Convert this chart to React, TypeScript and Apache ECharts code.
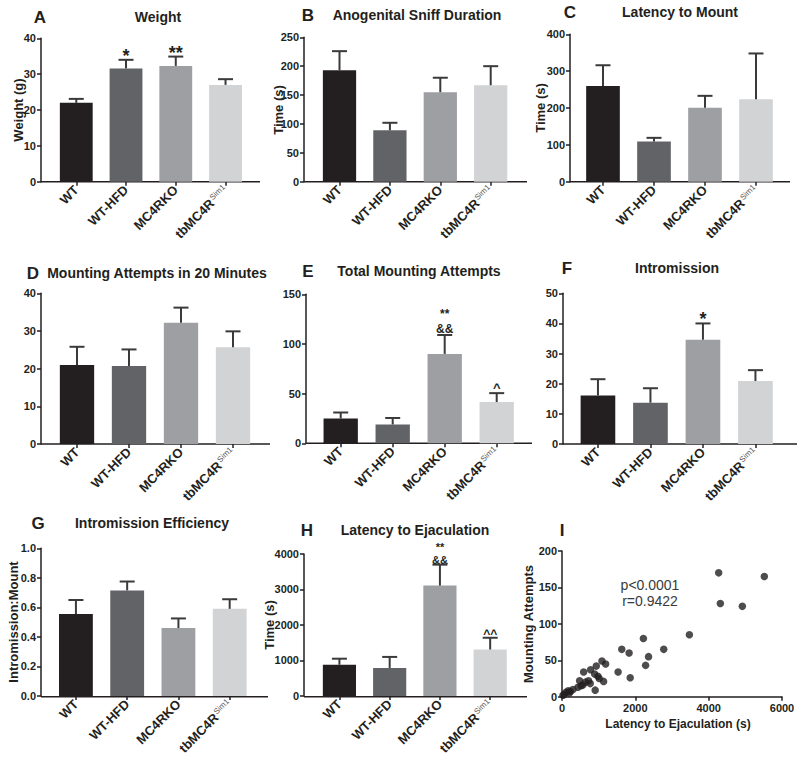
import React, { useEffect, useRef } from 'react';
import * as echarts from 'echarts';

// ---------- data ----------
const groups = ['WT', 'WT-HFD', 'MC4RKO', 'tbMC4R'];
const groupColors = ['#231f20', '#626366', '#9d9fa3', '#d2d3d5'];

const weightMean = [22.0, 31.6, 32.3, 27.0];
const weightSem = [1.1, 2.4, 2.6, 1.6];
const weightSig = ['', '*', '**', ''];
const weightTicks = { max: 40, interval: 10 };

const sniffMean = [193, 89, 155, 167];
const sniffSem = [33, 13, 25, 33];
const sniffTicks = { max: 250, interval: 50 };

const mountLatencyMean = [260, 109, 201, 224];
const mountLatencySem = [56, 10, 32, 124];
const mountLatencyTicks = { max: 400, interval: 100 };

const attempts20Mean = [21.0, 20.7, 32.2, 25.7];
const attempts20Sem = [4.8, 4.4, 4.0, 4.2];
const attempts20Ticks = { max: 40, interval: 10 };

const totalAttemptsMean = [25, 19, 90, 41.5];
const totalAttemptsSem = [6, 6.5, 19, 9];
const totalAttemptsSig = ['', '', '**\n&&', '^'];
const totalAttemptsTicks = { max: 150, interval: 50 };

const intromissionMean = [16.1, 13.7, 34.6, 20.9];
const intromissionSem = [5.4, 4.8, 5.4, 3.6];
const intromissionSig = ['', '', '*', ''];
const intromissionTicks = { max: 50, interval: 10 };

const efficiencyMean = [0.555, 0.715, 0.46, 0.59];
const efficiencySem = [0.095, 0.06, 0.065, 0.065];
const efficiencyTicks = { max: 1.0, interval: 0.2 };

const ejaculationMean = [880, 790, 3110, 1310];
const ejaculationSem = [170, 310, 590, 330];
const ejaculationSig = ['', '', '**\n&&', '^^'];
const ejaculationTicks = { max: 4000, interval: 1000 };

// panel I scatter
const latencyToEjaculation = [
  27, 60, 110, 170, 200, 230, 300, 435, 480, 520, 570, 590, 640, 725, 770, 780,
  890, 905, 935, 980, 1015, 1090, 1135, 1190, 1530, 1630, 1830, 1860, 2220,
  2280, 2360, 2775, 3474, 4273, 4318, 4918, 5518,
];
const mountingAttempts = [
  2, 3, 6, 8, 5, 7, 10, 13, 22, 15, 16, 34, 20, 22, 18, 37,
  31, 9, 42, 28, 25, 49, 21, 45, 34, 65, 60, 26, 80,
  43, 55, 65, 85, 170, 128, 124, 165,
];
const scatterTicks = { xMax: 6000, xInterval: 2000, yMax: 200, yInterval: 50 };
const statText = ['p<0.0001', 'r=0.9422'];

// ---------- style ----------
const FONT = "'Liberation Sans', Arial, Helvetica, sans-serif";
const INK = '#231f20';
const ERR = '#3a3a3c';

type Layout = {
  axisX: number; left: number; width: number; top: number; bottom: number; lineEnd: number;
  letter: [number, number]; title: [number, number]; yName?: [number, number];
  sigDy: number; starFs: number; otherFs: number; multiFs: number; multiLh: number;
};

type Panel = {
  letter: string; title: string; yName?: string;
  mean: number[]; sem: number[]; sig?: string[];
  ticks: { max: number; interval: number }; decimals?: number; layout: Layout;
};

const sigDefaults = { sigDy: 5, starFs: 18, otherFs: 13, multiFs: 12, multiLh: 14.5 };

const panels: Panel[] = [
  { letter: 'A', title: 'Weight', yName: 'Weight (g)', mean: weightMean, sem: weightSem, sig: weightSig, ticks: weightTicks,
    layout: { ...sigDefaults, axisX: 41, left: 51.4, width: 199, top: 38.3, bottom: 181.7, lineEnd: 260, letter: [40, 17], title: [158, 17], yName: [18, 110] } },
  { letter: 'B', title: 'Anogenital Sniff Duration', yName: 'Time (s)', mean: sniffMean, sem: sniffSem, ticks: sniffTicks,
    layout: { ...sigDefaults, axisX: 304, left: 314.3, width: 201.6, top: 37.3, bottom: 181.7, lineEnd: 527, letter: [308, 15], title: [417, 15], yName: [278, 110] } },
  { letter: 'C', title: 'Latency to Mount', yName: 'Time (s)', mean: mountLatencyMean, sem: mountLatencySem, ticks: mountLatencyTicks,
    layout: { ...sigDefaults, axisX: 570, left: 577.5, width: 204, top: 34.3, bottom: 181.7, lineEnd: 790, letter: [570, 12], title: [680, 12], yName: [540, 108] } },
  { letter: 'D', title: 'Mounting Attempts in 20 Minutes', mean: attempts20Mean, sem: attempts20Sem, ticks: attempts20Ticks,
    layout: { ...sigDefaults, axisX: 41, left: 51, width: 208, top: 293.3, bottom: 444, lineEnd: 270, letter: [33, 273], title: [157, 273] } },
  { letter: 'E', title: 'Total Mounting Attempts', mean: totalAttemptsMean, sem: totalAttemptsSem, sig: totalAttemptsSig, ticks: totalAttemptsTicks,
    layout: { ...sigDefaults, sigDy: 1, axisX: 306, left: 314.7, width: 208, top: 294.3, bottom: 443.3, lineEnd: 532, letter: [308, 271], title: [419, 271] } },
  { letter: 'F', title: 'Intromission', mean: intromissionMean, sem: intromissionSem, sig: intromissionSig, ticks: intromissionTicks,
    layout: { ...sigDefaults, axisX: 563, left: 571.7, width: 210, top: 293.3, bottom: 444, lineEnd: 797, letter: [567, 268], title: [677, 268] } },
  { letter: 'G', title: 'Intromission Efficiency', yName: 'Intromission:Mount', mean: efficiencyMean, sem: efficiencySem, ticks: efficiencyTicks, decimals: 1,
    layout: { ...sigDefaults, axisX: 41, left: 50.3, width: 205, top: 548.3, bottom: 696.7, lineEnd: 268, letter: [38, 523], title: [152, 523], yName: [13, 622] } },
  { letter: 'H', title: 'Latency to Ejaculation', yName: 'Time (s)', mean: ejaculationMean, sem: ejaculationSem, sig: ejaculationSig, ticks: ejaculationTicks,
    layout: { ...sigDefaults, sigDy: 2, otherFs: 12, multiFs: 11, multiLh: 13, axisX: 304, left: 314.3, width: 201, top: 554, bottom: 696.7, lineEnd: 527, letter: [307, 530], title: [415, 530], yName: [269, 625] } },
];

const scatterLayout = { left: 562, top: 551, width: 220, bottom: 696.7, letter: [562, 530], yName: [528, 624], xName: [678, 724], stat: [650, 592.5] };

function makeErrorRender(p: Panel) {
  return (params: any, api: any) => {
    const i = params.dataIndex;
    const base = api.coord([i, p.mean[i]]);
    const top = api.coord([i, p.mean[i] + p.sem[i]]);
    const children: any[] = [
      { type: 'line', shape: { x1: base[0], y1: base[1], x2: top[0], y2: top[1] }, style: { stroke: ERR, lineWidth: 2 } },
      { type: 'line', shape: { x1: top[0] - 7.5, y1: top[1], x2: top[0] + 7.5, y2: top[1] }, style: { stroke: ERR, lineWidth: 2 } },
    ];
    const s = p.sig ? p.sig[i] : '';
    if (s) {
      const L = p.layout;
      const multi = s.indexOf('\n') >= 0;
      const fs = multi ? L.multiFs : s.indexOf('*') >= 0 ? L.starFs : L.otherFs;
      const lh = multi ? L.multiLh : fs;
      children.push({
        type: 'text',
        style: {
          text: s, x: top[0], y: top[1] + L.sigDy, align: 'center', verticalAlign: 'bottom',
          fontFamily: FONT, fontWeight: 'bold', fontSize: fs, lineHeight: lh, fill: INK,
        },
      });
    }
    return { type: 'group', children };
  };
}

function buildOption() {
  const grid: any[] = [];
  const xAxis: any[] = [];
  const yAxis: any[] = [];
  const series: any[] = [];
  const graphic: any[] = [];

  const tickLabel = { color: INK, fontSize: 11, fontWeight: 'bold', fontFamily: FONT };
  const lineStyle = { color: INK, width: 1.5 };

  panels.forEach((p, i) => {
    const L = p.layout;
    grid.push({ left: L.left, top: L.top, width: L.width, height: L.bottom - L.top });
    xAxis.push({
      type: 'category', gridIndex: i, data: groups,
      axisLine: { show: false },
      axisTick: { show: true, alignWithLabel: true, length: 4, lineStyle },
      axisLabel: {
        rotate: 45, margin: 6, interval: 0,
        formatter: (v: string) => (v === 'tbMC4R' ? '{b|tbMC4R}{s|Sim1}' : '{b|' + v + '}'),
        rich: {
          b: { fontSize: 13, fontWeight: 'bold', fontFamily: FONT, color: INK },
          s: { fontSize: 8, fontFamily: FONT, color: '#555', verticalAlign: 'top', padding: [0, 0, 0, 1] },
        },
      },
      splitLine: { show: false },
    });
    yAxis.push({
      type: 'value', gridIndex: i, min: 0, max: p.ticks.max, interval: p.ticks.interval,
      offset: L.left - L.axisX,
      axisLine: { show: true, lineStyle },
      axisTick: { show: true, length: 4, lineStyle },
      axisLabel: { ...tickLabel, margin: 5, formatter: (v: number) => (p.decimals ? v.toFixed(p.decimals) : String(v)) },
      splitLine: { show: false },
    });
    series.push({
      type: 'bar', xAxisIndex: i, yAxisIndex: i, barWidth: '66%',
      data: p.mean.map((v, k) => ({ value: v, itemStyle: { color: groupColors[k] } })),
      z: 2,
    });
    series.push({
      type: 'custom', xAxisIndex: i, yAxisIndex: i,
      data: p.mean.map((v, k) => [k, v, p.sem[k]]),
      encode: { x: 0, y: 1 },
      renderItem: makeErrorRender(p),
      z: 3,
    });
    graphic.push({ type: 'line', silent: true, shape: { x1: L.axisX, y1: L.bottom, x2: L.lineEnd, y2: L.bottom }, style: { stroke: INK, lineWidth: 1.5 } });
    graphic.push({ type: 'text', silent: true, x: L.letter[0], y: L.letter[1], style: { text: p.letter, fontSize: 17, fontWeight: 'bold', fontFamily: FONT, fill: INK, align: 'center', verticalAlign: 'middle' } });
    graphic.push({ type: 'text', silent: true, x: L.title[0], y: L.title[1], style: { text: p.title, fontSize: 14, fontWeight: 'bold', fontFamily: FONT, fill: INK, align: 'center', verticalAlign: 'middle' } });
    if (p.yName && L.yName) {
      graphic.push({ type: 'text', silent: true, x: L.yName[0], y: L.yName[1], rotation: Math.PI / 2, style: { text: p.yName, fontSize: 13, fontWeight: 'bold', fontFamily: FONT, fill: INK, align: 'center', verticalAlign: 'middle' } });
    }
  });

  // Scatter panel I
  const si = panels.length;
  const S = scatterLayout;
  grid.push({ left: S.left, top: S.top, width: S.width, height: S.bottom - S.top });
  xAxis.push({
    type: 'value', gridIndex: si, min: 0, max: scatterTicks.xMax, interval: scatterTicks.xInterval,
    axisLine: { show: true, onZero: false, lineStyle }, axisTick: { show: true, length: 4, lineStyle },
    axisLabel: { ...tickLabel, margin: 6, formatter: (v: number) => String(v) }, splitLine: { show: false },
  });
  yAxis.push({
    type: 'value', gridIndex: si, min: 0, max: scatterTicks.yMax, interval: scatterTicks.yInterval,
    axisLine: { show: true, onZero: false, lineStyle }, axisTick: { show: true, length: 4, lineStyle },
    axisLabel: { ...tickLabel, margin: 5, formatter: (v: number) => String(v) }, splitLine: { show: false },
  });
  series.push({
    type: 'scatter', xAxisIndex: si, yAxisIndex: si, symbolSize: 7.5,
    itemStyle: { color: INK },
    data: latencyToEjaculation.map((x, k) => [x, mountingAttempts[k]]),
  });
  graphic.push({ type: 'text', silent: true, x: S.letter[0], y: S.letter[1], style: { text: 'I', fontSize: 17, fontWeight: 'bold', fontFamily: FONT, fill: INK, align: 'center', verticalAlign: 'middle' } });
  graphic.push({ type: 'text', silent: true, x: S.yName[0], y: S.yName[1], rotation: Math.PI / 2, style: { text: 'Mounting Attempts', fontSize: 13, fontWeight: 'bold', fontFamily: FONT, fill: INK, align: 'center', verticalAlign: 'middle' } });
  graphic.push({ type: 'text', silent: true, x: S.xName[0], y: S.xName[1], style: { text: 'Latency to Ejaculation (s)', fontSize: 12, fontWeight: 'bold', fontFamily: FONT, fill: INK, align: 'center', verticalAlign: 'middle' } });
  graphic.push({ type: 'text', silent: true, x: S.stat[0], y: S.stat[1], style: { text: statText.join('\n'), fontSize: 14, lineHeight: 16, fontFamily: FONT, fill: '#3a3a3a', align: 'center', verticalAlign: 'middle' } });

  return { animation: false, backgroundColor: '#ffffff', grid, xAxis, yAxis, series, graphic };
}

export default function App() {
  const ref = useRef<HTMLDivElement>(null);
  useEffect(() => {
    if (!ref.current) return;
    const chart = echarts.init(ref.current, undefined, { renderer: 'svg' });
    chart.setOption(buildOption() as any);
    return () => chart.dispose();
  }, []);
  return <div ref={ref} style={{ position: 'fixed', left: 0, top: 0, width: 800, height: 757, background: '#fff' }} />;
}
